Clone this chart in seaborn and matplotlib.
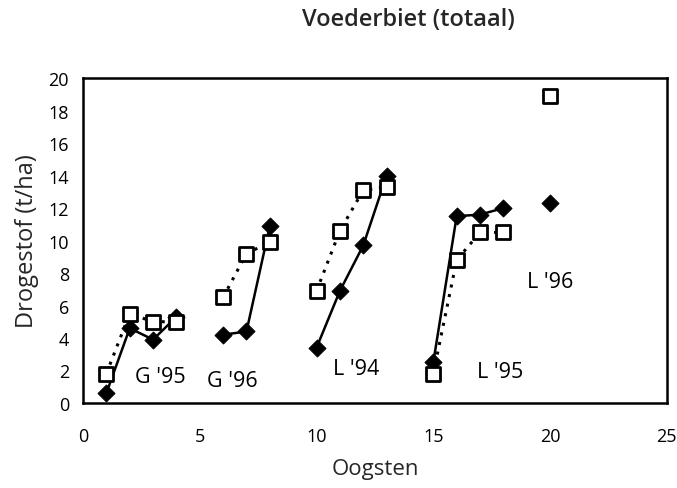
import matplotlib
matplotlib.use("Agg")
import matplotlib.pyplot as plt
import seaborn as sns
import pandas as pd

# Data
groups = ["G '95"] * 4 + ["G '96"] * 3 + ["L '94"] * 4 + ["L '95"] * 4 + ["L '96"]
oogsten = [1, 2, 3, 4, 6, 7, 8, 10, 11, 12, 13, 15, 16, 17, 18, 20]
filled_vals = [0.6, 4.6, 3.9, 5.3, 4.2, 4.4, 10.9, 3.4, 6.9, 9.7, 14.0, 2.5, 11.5, 11.6, 12.0, 12.3]
open_vals = [1.8, 5.5, 5.0, 5.0, 6.5, 9.2, 9.9, 6.9, 10.6, 13.1, 13.3, 1.8, 8.8, 10.5, 10.5, 18.9]

label_text = ["G '95", "G '96", "L '94", "L '95", "L '96"]
label_x = [3.3, 6.4, 11.7, 17.85, 20.0]
label_y = [1.65, 1.35, 2.15, 1.95, 7.45]

sns.set_theme(style="white")
plt.rcParams['font.family'] = ['Open Sans', 'DejaVu Sans']

df = pd.DataFrame({"group": groups, "x": oogsten, "filled": filled_vals, "open": open_vals})

fig = plt.figure(figsize=(6.77, 4.89), dpi=100)
ax = fig.add_axes([0.1226, 0.174, 0.8624, 0.664])

sns.lineplot(data=df, x="x", y="open", units="group", estimator=None, ax=ax,
             color="black", linestyle=(0, (1, 2.2)), linewidth=2.2, sort=False)
sns.lineplot(data=df, x="x", y="filled", units="group", estimator=None, ax=ax,
             color="black", linewidth=1.8, sort=False)
sns.scatterplot(data=df, x="x", y="filled", ax=ax, marker="D", s=75,
                color="black", edgecolor="black", zorder=3)
sns.scatterplot(data=df, x="x", y="open", ax=ax, marker="s", s=110,
                facecolor="white", edgecolor="black", linewidth=2, zorder=4)

for t, x, y in zip(label_text, label_x, label_y):
    ax.text(x, y, t, ha="center", va="center", fontsize=15.5, color="black")

ax.set_xlim(0, 25)
ax.set_ylim(0, 20)
ax.set_xticks(range(0, 26, 5))
ax.set_yticks(range(0, 21, 2))
ax.tick_params(axis="both", direction="inout", length=8, width=1.3, labelsize=13, colors="black")
ax.tick_params(axis="x", pad=13)
ax.tick_params(axis="y", pad=6)
for s in ax.spines.values():
    s.set_color("black")
    s.set_linewidth(1.8)
ax.set_xlabel("Oogsten", fontsize=16, labelpad=10)
ax.set_ylabel("Drogestof (t/ha)", fontsize=17, labelpad=7)
fig.text(0.603, 0.959, "Voederbiet (totaal)", ha="center", va="center", fontsize=17, fontweight="semibold")

fig.savefig("out.png", dpi=100)
